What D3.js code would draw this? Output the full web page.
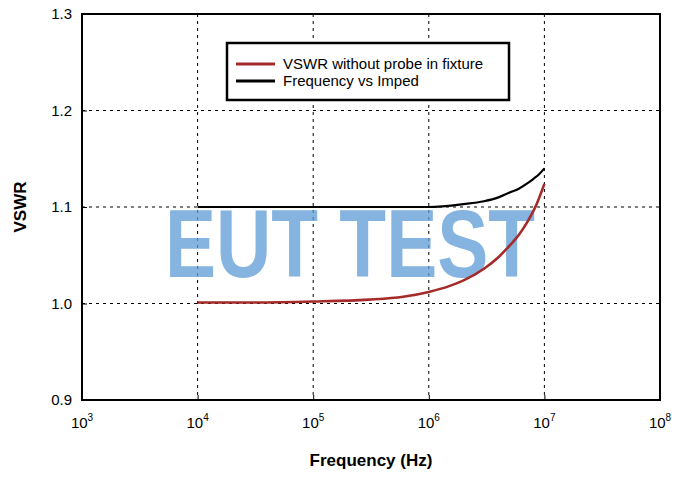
<!DOCTYPE html><html><head><meta charset="utf-8"><script src="https://cdn.jsdelivr.net/npm/d3@7"></script>
<style>body{margin:0;background:#fff}text{font-family:Arial,"Liberation Sans",sans-serif}</style></head><body><svg id="c" width="686" height="480"></svg>
<script>
const freqRed=[1e4,3e4,1e5,3e5,6e5,1e6,1.5e6,2e6,3e6,4e6,5e6,6e6,7e6,8.5e6,1e7];
const vswrRed=[1.001,1.001,1.002,1.004,1.007,1.012,1.018,1.024,1.036,1.048,1.060,1.071,1.083,1.102,1.124];
const freqBlk=[1e4,1e5,5e5,1e6,2e6,3e6,4e6,5e6,6e6,7e6,8e6,9e6,1e7];
const vswrBlk=[1.100,1.100,1.100,1.100,1.103,1.106,1.110,1.115,1.119,1.124,1.129,1.134,1.140];
const xTicks=[1e3,1e4,1e5,1e6,1e7,1e8];
const yTicks=[0.9,1.0,1.1,1.2,1.3];
const legendLabels=["VSWR without probe in fixture","Frequency vs Imped"];
const colors=["#a52a2a","#000"];
const svg=d3.select("#c");
const L=82,R=660,T=14,B=400;
const x=d3.scaleLog().domain([1e3,1e8]).range([L,R]);
const y=d3.scaleLinear().domain([0.9,1.3]).range([B,T]);
const g=svg.append("g");
xTicks.slice(1,-1).forEach(t=>g.append("line").attr("x1",x(t)).attr("x2",x(t)).attr("y1",T).attr("y2",B).attr("stroke","#000").attr("stroke-dasharray","3,4").attr("stroke-width",1));
yTicks.slice(1,-1).forEach(t=>g.append("line").attr("x1",L).attr("x2",R).attr("y1",y(t)).attr("y2",y(t)).attr("stroke","#000").attr("stroke-dasharray","3,4").attr("stroke-width",1));
svg.append("text").attr("x",350).attr("y",277).attr("text-anchor","middle").attr("font-size",96).attr("font-weight","bold").attr("fill","#5b9bd5").attr("opacity",0.75).attr("font-family","'DejaVu Sans Condensed','Liberation Sans Narrow',sans-serif").attr("textLength",370).attr("lengthAdjust","spacingAndGlyphs").text("EUT TEST");
const line=d3.line().x(d=>x(d[0])).y(d=>y(d[1])).curve(d3.curveMonotoneX);
svg.append("path").attr("d",line(freqBlk.map((f,i)=>[f,vswrBlk[i]]))).attr("fill","none").attr("stroke",colors[1]).attr("stroke-width",2.2);
svg.append("path").attr("d",line(freqRed.map((f,i)=>[f,vswrRed[i]]))).attr("fill","none").attr("stroke",colors[0]).attr("stroke-width",2.6);
svg.append("rect").attr("x",L).attr("y",T).attr("width",R-L).attr("height",B-T).attr("fill","none").attr("stroke","#000").attr("stroke-width",2);
const xa=svg.append("g").attr("transform",`translate(0,${B})`).call(d3.axisBottom(x).tickValues(xTicks).tickSize(-5).tickFormat(()=>""));
xa.select(".domain").remove();
xTicks.forEach(t=>{const tx=svg.append("text").attr("x",x(t)).attr("y",B+28).attr("text-anchor","middle").attr("font-size",15);tx.append("tspan").text("10");tx.append("tspan").attr("dy",-7).attr("font-size",10).text(Math.log10(t));});
const ya=svg.append("g").attr("transform",`translate(${L},0)`).call(d3.axisLeft(y).tickValues(yTicks).tickSize(-5).tickFormat(d3.format(".1f")));
ya.select(".domain").remove();ya.selectAll("text").attr("font-size",15).attr("x",-10).attr("font-family","Arial,'Liberation Sans',sans-serif");
svg.append("text").attr("x",371).attr("y",466).attr("text-anchor","middle").attr("font-size",17).attr("font-weight","bold").text("Frequency (Hz)");
svg.append("text").attr("transform","translate(26,207) rotate(-90)").attr("text-anchor","middle").attr("font-size",17).attr("font-weight","bold").text("VSWR");
svg.append("rect").attr("x",227).attr("y",43).attr("width",282).attr("height",57).attr("fill","#fff").attr("stroke","#000").attr("stroke-width",2.5);
legendLabels.forEach((l,i)=>{const yy=64+i*17;svg.append("line").attr("x1",236).attr("x2",275).attr("y1",yy).attr("y2",yy).attr("stroke",colors[i]).attr("stroke-width",3);svg.append("text").attr("x",283).attr("y",yy+5).attr("font-size",15).text(l);});
</script></body></html>
